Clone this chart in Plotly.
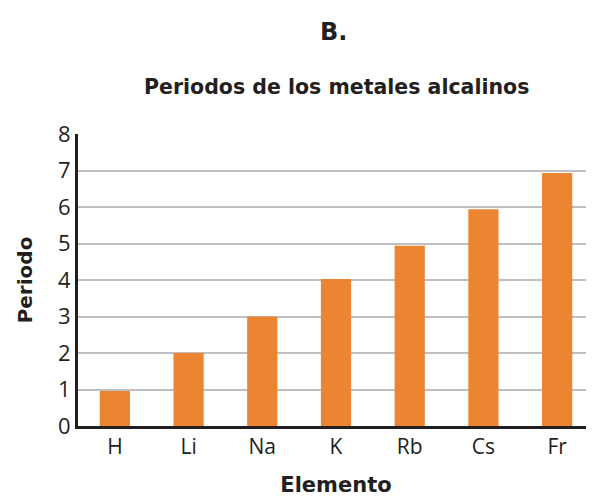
import plotly.graph_objects as go

elementos = ["H", "Li", "Na", "K", "Rb", "Cs", "Fr"]
periodos = [0.96, 2.0, 3.0, 4.03, 4.94, 5.94, 6.93]
y_ticks = [0, 1, 2, 3, 4, 5, 6, 7, 8]

# page body has an 8px margin, so the figure is drawn 8px right/down
W, H = 586, 490
L, T, B, R = 70, 126, 72, 0
pw, ph = W - L - R, H - T - B

fig = go.Figure(go.Bar(x=elementos, y=periodos, marker_color="#EC8532",
                       marker_line_width=0, width=0.41))

fig.update_layout(
    width=W, height=H,
    margin=dict(l=L, r=R, t=T, b=B),
    paper_bgcolor="white", plot_bgcolor="white",
    showlegend=False,
    font=dict(family="Open Sans", color="#231F20"),
)
fig.add_annotation(text="<b>B.</b>", xref="paper", yref="paper",
                   x=(333 - 8 - L) / pw, y=(H - B - (32 - 8)) / ph, yanchor="middle",
                   showarrow=False, font=dict(family="DejaVu Sans", size=24, color="#231F20"))
fig.add_annotation(text="<b>Periodos de los metales alcalinos</b>", xref="paper", yref="paper",
                   x=(336 - 8 - L) / pw, y=(H - B - (87 - 8)) / ph, yanchor="middle",
                   showarrow=False, font=dict(family="DejaVu Sans", size=20.5, color="#231F20"))

fig.update_xaxes(
    showline=True, linecolor="#231F20", linewidth=3,
    ticks="", tickfont=dict(size=21, color="#231F20"),
    title=dict(text="<b>Elemento</b>", font=dict(family="DejaVu Sans", size=21, color="#231F20"),
               standoff=19),
)
fig.update_yaxes(
    range=[0, 8], tickvals=y_ticks,
    showline=True, linecolor="#231F20", linewidth=3,
    showgrid=True, gridcolor="#C0C0C4", gridwidth=2,
    zeroline=False, ticks="", ticklen=0,
    tickfont=dict(size=22, color="#231F20"),
    title=dict(text="<b>Periodo</b>", font=dict(family="DejaVu Sans", size=20, color="#231F20"),
               standoff=21),
)

fig.write_html("out.html")
